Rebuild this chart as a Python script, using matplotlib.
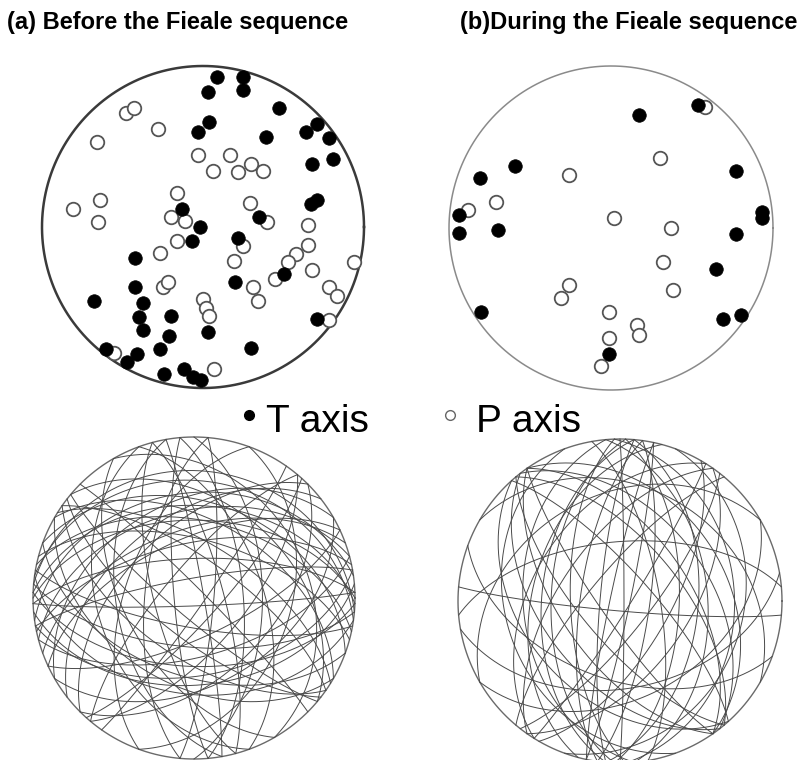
"""
P/T axes and nodal planes before and during the Fieale sequence.
Lower hemisphere, equal-area projection.
"""

import numpy as np
import matplotlib

matplotlib.use("Agg")
import matplotlib.pyplot as plt

W, H = 805, 760

# T / P axes (x, y in units of the net radius)
T_BEFORE_X = [0.09, 0.25, 0.25, 0.03, 0.47, 0.04, -0.03, 0.39, 0.64, 0.71, 0.78,
              0.81, 0.68, 0.71, 0.67, 0.35, -0.13, -0.02, -0.07, -0.42, -0.42,
              -0.68, -0.37, -0.40, -0.37, -0.20, -0.21, -0.27, -0.41, -0.47,
              -0.60, -0.24, -0.12, -0.06, -0.01, 0.22, 0.20, 0.50, 0.71, 0.03,
              0.30]
T_BEFORE_Y = [0.93, 0.93, 0.85, 0.84, 0.74, 0.65, 0.59, 0.56, 0.59, 0.64, 0.55,
              0.42, 0.39, 0.17, 0.14, 0.06, 0.11, 0.00, -0.09, -0.19, -0.37,
              -0.46, -0.47, -0.56, -0.64, -0.55, -0.68, -0.76, -0.79, -0.84,
              -0.76, -0.91, -0.88, -0.93, -0.95, -0.07, -0.34, -0.29, -0.57,
              -0.65, -0.75]
P_BEFORE_X = [-0.48, -0.43, -0.28, -0.66, -0.03, 0.06, -0.16, -0.64, -0.81,
              -0.65, -0.20, -0.11, 0.17, 0.22, 0.30, 0.37, 0.29, 0.40, 0.65,
              -0.16, -0.27, -0.25, -0.22, 0.00, 0.02, 0.04, -0.55, 0.07, 0.25,
              0.19, 0.65, 0.58, 0.53, 0.45, 0.68, 0.31, 0.34, 0.94, 0.78, 0.83,
              0.78]
P_BEFORE_Y = [0.71, 0.74, 0.61, 0.53, 0.45, 0.35, 0.21, 0.17, 0.11, 0.03, 0.06,
              0.04, 0.45, 0.34, 0.39, 0.35, 0.15, 0.03, 0.01, -0.09, -0.16,
              -0.37, -0.34, -0.45, -0.50, -0.55, -0.78, -0.88, -0.12, -0.21,
              -0.11, -0.17, -0.22, -0.32, -0.27, -0.37, -0.46, -0.22, -0.37,
              -0.43, -0.58]

T_DURING_X = [-0.59, -0.81, -0.94, -0.94, -0.70, 0.17, 0.54, 0.77, 0.93, 0.93,
              0.77, 0.65, 0.69, 0.80, -0.01, -0.80]
T_DURING_Y = [0.38, 0.31, 0.08, -0.03, -0.01, 0.70, 0.76, 0.35, 0.10, 0.06,
              -0.04, -0.25, -0.56, -0.54, -0.78, -0.52]
P_DURING_X = [-0.26, -0.71, -0.88, 0.02, 0.58, 0.30, 0.37, 0.32, 0.38, -0.26,
              -0.31, -0.01, -0.01, -0.06, 0.16, 0.17]
P_DURING_Y = [0.33, 0.16, 0.11, 0.06, 0.75, 0.43, 0.00, -0.21, -0.38, -0.35,
              -0.43, -0.52, -0.68, -0.85, -0.60, -0.66]

# nodal planes, strike / dip in degrees (right-hand rule)
STRIKE_BEFORE = [262, 270, 278, 255, 285, 268, 250, 290, 275, 260,
                 85, 95, 80, 100, 88, 92, 75,
                 305, 125, 300, 130, 310, 120, 315,
                 345, 165, 340, 170, 350, 160,
                 40, 220, 45, 225, 35,
                 65, 245, 60, 240,
                 5, 185, 0,
                 150, 200, 330, 20, 110,
                 272, 258, 282, 98, 302, 128, 42, 232, 355, 175]
DIP_BEFORE = [35, 50, 28, 45, 60, 70, 55, 40, 22, 80,
              45, 65, 50, 75, 86, 55, 60,
              70, 60, 50, 80, 40, 45, 85,
              75, 70, 55, 50, 85, 40,
              65, 75, 50, 55, 85,
              70, 60, 45, 40,
              80, 65, 55,
              55, 55, 30, 40, 50,
              42, 62, 50, 40, 62, 70, 78, 48, 65, 80]
STRIKE_DURING = [2, 182, 8, 188, 355, 175, 12, 192, 358, 178, 5, 185,
                 322, 142, 320, 140, 325, 145, 318, 138,
                 35, 215, 38, 212, 32,
                 95, 265, 80,
                 300, 60, 240, 160, 20, 110,
                 0, 185, 325, 145, 30, 220, 350, 195]
DIP_DURING = [60, 55, 75, 70, 45, 40, 85, 85, 30, 65, 50, 80,
              45, 50, 60, 70, 35, 80, 75, 40,
              55, 60, 75, 45, 85,
              85, 60, 45,
              30, 40, 35, 30, 25, 50,
              88, 50, 55, 60, 65, 75, 70, 45]


def great_circle(strike, dip, n=200):
    """Lower-hemisphere trace of a plane, equal-area net of radius 1."""
    s = np.radians(strike)
    d = np.radians(dip)
    t = np.linspace(0, np.pi, n)
    sv = np.array([np.cos(s), np.sin(s), 0.0])
    dv = np.array([np.cos(s + np.pi / 2) * np.cos(d),
                   np.sin(s + np.pi / 2) * np.cos(d), np.sin(d)])
    v = np.outer(np.cos(t), sv) + np.outer(np.sin(t), dv)
    plunge = np.arcsin(np.clip(v[:, 2], -1, 1))
    trend = np.arctan2(v[:, 1], v[:, 0])
    rho = np.sqrt(2) * np.sin((np.pi / 2 - plunge) / 2)
    return rho * np.sin(trend), rho * np.cos(trend)


def net_axes(fig, cx, cy, r):
    """Axes whose [-1, 1] box sits on a circle given in pixels."""
    ax = fig.add_axes([(cx - r) / W, (H - cy - r) / H, 2 * r / W, 2 * r / H])
    ax.set_xlim(-1, 1)
    ax.set_ylim(-1, 1)
    ax.axis("off")
    return ax


def primitive(ax, color, lw):
    a = np.linspace(0, 2 * np.pi, 400)
    ax.plot(np.cos(a), np.sin(a), color=color, lw=lw, clip_on=False)


def main() -> None:
    plt.rcParams["font.family"] = ["Liberation Sans", "DejaVu Sans"]
    fig = plt.figure(figsize=(W / 100, H / 100), dpi=100)

    # top row: P and T axes
    for (cx, cy, r), tx, ty, px, py, edge, elw in [
        ((203, 227, 161), T_BEFORE_X, T_BEFORE_Y, P_BEFORE_X, P_BEFORE_Y, "#3a3a3a", 1.8),
        ((611, 228, 162), T_DURING_X, T_DURING_Y, P_DURING_X, P_DURING_Y, "#8a8a8a", 1.1),
    ]:
        ax = net_axes(fig, cx, cy, r)
        primitive(ax, edge, elw)
        ax.scatter(px, py, s=95, facecolor="white", edgecolor="#555555",
                   linewidth=1.3, clip_on=False, zorder=3)
        ax.scatter(tx, ty, s=95, facecolor="black", edgecolor="black",
                   linewidth=0.5, clip_on=False, zorder=4)

    # bottom row: nodal planes
    for (cx, cy, r), strikes, dips in [
        ((194, 598, 161), STRIKE_BEFORE, DIP_BEFORE),
        ((620, 601, 162), STRIKE_DURING, DIP_DURING),
    ]:
        ax = net_axes(fig, cx, cy, r)
        primitive(ax, "#6a6a6a", 1.0)
        for s, d in zip(strikes, dips):
            x, y = great_circle(s, d)
            ax.plot(x, y, color="#4a4a4a", lw=0.7, clip_on=False)

    fig.text(7 / W, 1 - 22 / H, "(a) Before the Fieale sequence",
             fontsize=17, fontweight="bold", va="center", ha="left")
    fig.text(460 / W, 1 - 22 / H, "(b)During the Fieale sequence",
             fontsize=17, fontweight="bold", va="center", ha="left")

    # legend in the middle
    fig.lines.append(plt.Line2D([249 / W], [1 - 415 / H], marker="o", ms=7,
                                color="black", transform=fig.transFigure))
    fig.lines.append(plt.Line2D([450 / W], [1 - 415 / H], marker="o", ms=7,
                                mfc="white", mec="#666666", mew=1.0,
                                transform=fig.transFigure))
    fig.text(266 / W, 1 - 432 / H, "T axis", fontsize=28, va="baseline")
    fig.text(476 / W, 1 - 432 / H, "P axis", fontsize=28, va="baseline")

    fig.savefig("out.png", dpi=100, facecolor="white")


if __name__ == "__main__":
    main()
